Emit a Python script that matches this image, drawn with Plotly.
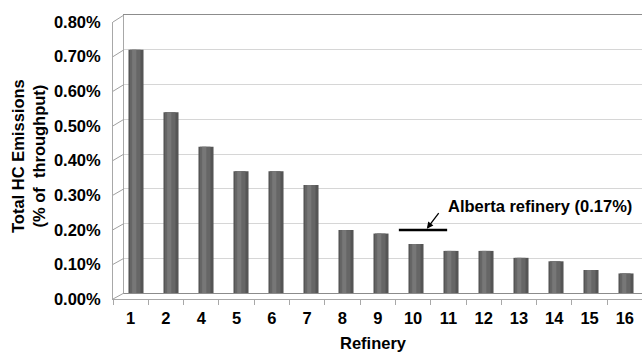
import plotly.graph_objects as go

# ---- data ----
refineries = ["1", "2", "4", "5", "6", "7", "8", "9", "10", "11", "12", "13", "14", "15", "16"]
hc_emissions = [0.0071, 0.0053, 0.0043, 0.0036, 0.0036, 0.0032, 0.0019, 0.0018,
                0.0015, 0.0013, 0.0013, 0.0011, 0.0010, 0.00075, 0.00065]
y_ticks = [0.000, 0.001, 0.002, 0.003, 0.004, 0.005, 0.006, 0.007, 0.008]
alberta_label = "Alberta refinery (0.17%)"
alberta_level = 0.0019          # drawn height of the reference line (as seen in picture)
alberta_span = (7.51, 8.89)      # in bar-position units

W, H = 642, 352
FONT = "Liberation Sans, Arial, sans-serif"
FS = 16.5

def px(x):
    return x / W

def py(y):
    return 1 - y / H

# pixel geometry of the pseudo-3D box
back_left, back_top, back_bottom = 124, 15, 293
front_left, front_top, front_bottom = 113, 22, 299
bar_top, bar_bottom = 18.5, 296       # pixel rows of 0.80% and 0% for the bars
cat_step = 35.0
first_bar = 136

x_back0 = -(first_bar - back_left) / cat_step
x_back1 = x_back0 + (W - back_left) / cat_step

def back_px(v):
    return back_bottom - v / 0.008 * (back_bottom - back_top)

def to_bar_units(ypix):
    return (bar_bottom - ypix) / (bar_bottom - bar_top) * 0.008

# bar-axis range chosen so the subplot box coincides with the back wall
y_lo, y_hi = to_bar_units(back_bottom), to_bar_units(back_top)
grid_vals = [to_bar_units(back_px(v)) for v in y_ticks]

fig = go.Figure()
pos = list(range(len(refineries)))

# cylinder-like bars: dark body + lighter inner bands
for w, off, col in [(0.43, -0.215, "#555555"), (0.30, -0.17, "#666666"), (0.12, -0.11, "#777777")]:
    fig.add_trace(go.Bar(x=pos, y=hc_emissions, width=w, offset=off,
                         marker=dict(color=col, line=dict(width=0)),
                         cliponaxis=False, xaxis="x", yaxis="y", hoverinfo="skip"))

# front axes carrier trace
fig.add_trace(go.Scatter(x=refineries, y=[0] * len(refineries), mode="markers",
                         marker=dict(opacity=0), xaxis="x2", yaxis="y2",
                         hoverinfo="skip", showlegend=False))

fig.update_layout(
    width=W, height=H, autosize=False,
    margin=dict(l=0, r=0, t=0, b=0, pad=0, autoexpand=False),
    paper_bgcolor="white",
    plot_bgcolor="rgba(255,255,255,0)",
    barmode="overlay",
    showlegend=False,
    font=dict(family=FONT, size=FS, color="black"),
    xaxis=dict(domain=[px(back_left), 1], range=[x_back0, x_back1],
               showgrid=False, zeroline=False, showticklabels=False, ticks="",
               showline=True, mirror=True, linecolor="#8c8c8c", linewidth=1.2,
               anchor="y", automargin=False),
    yaxis=dict(domain=[py(back_bottom), py(back_top)], range=[y_lo, y_hi],
               tickvals=grid_vals, showgrid=True, gridcolor="#d6d6d6", gridwidth=1,
               showticklabels=False, ticks="", zeroline=False,
               showline=True, mirror=True, linecolor="#a8a8a8", linewidth=1,
               anchor="x", automargin=False),
    xaxis2=dict(domain=[px(front_left), 1],
                range=[-0.5, -0.5 + (W - front_left) / 35.3],
                type="category", categoryorder="array", categoryarray=refineries,
                tickson="boundaries", ticks="outside", ticklen=5, tickcolor="#a8a8a8",
                showgrid=False, zeroline=False, showline=True, linecolor="#a8a8a8",
                tickfont=dict(family=FONT, size=FS, color="black", weight="bold"),
                ticklabelstandoff=4, anchor="y2", automargin=False),
    yaxis2=dict(domain=[py(front_bottom), py(front_top)], range=[0, 0.008],
                tickvals=y_ticks, tickformat=".2%", ticks="",
                showgrid=False, zeroline=False, showline=True, linecolor="#a8a8a8",
                tickfont=dict(family=FONT, size=FS, color="black", weight="bold"),
                ticklabelstandoff=8, anchor="x2", automargin=False),
)

shapes = []
# side-wall connectors between front axis and back wall
for v in y_ticks:
    yf = front_bottom - v / 0.008 * (front_bottom - front_top)
    shapes.append(dict(type="line", xref="paper", yref="paper",
                       x0=px(front_left), y0=py(yf), x1=px(back_left), y1=py(back_px(v)),
                       line=dict(color="#a0a0a0", width=1)))

# Alberta reference line
shapes.append(dict(type="line", xref="x", yref="y",
                   x0=alberta_span[0], x1=alberta_span[1],
                   y0=alberta_level, y1=alberta_level,
                   line=dict(color="black", width=2.5)))
fig.update_layout(shapes=shapes)

annotations = [
    dict(x=8.31, y=alberta_level + 0.00004, xref="x", yref="y", text="",
         showarrow=True, arrowhead=2, arrowsize=1, arrowwidth=1.3,
         arrowcolor="black", ax=13, ay=-17),
    dict(x=8.86, y=0.00259, xref="x", yref="y", text=alberta_label,
         showarrow=False, xanchor="left", yanchor="middle",
         font=dict(family=FONT, size=FS, color="black", weight="bold")),
    dict(x=px(373), y=py(343), xref="paper", yref="paper", text="Refinery",
         showarrow=False, xanchor="center", yanchor="middle",
         font=dict(family=FONT, size=FS, color="black", weight="bold")),
    dict(x=px(29), y=py(156), xref="paper", yref="paper",
         text="Total HC Emissions<br>(% of\u00a0 throughput)", textangle=-90,
         showarrow=False, xanchor="center", yanchor="middle",
         font=dict(family=FONT, size=FS, color="black", weight="bold")),
]
fig.update_layout(annotations=annotations)

fig.write_html("out.html",
               config={"displayModeBar": False},
               post_script="document.body.style.margin='0';"
                           "document.documentElement.style.overflow='hidden';")
